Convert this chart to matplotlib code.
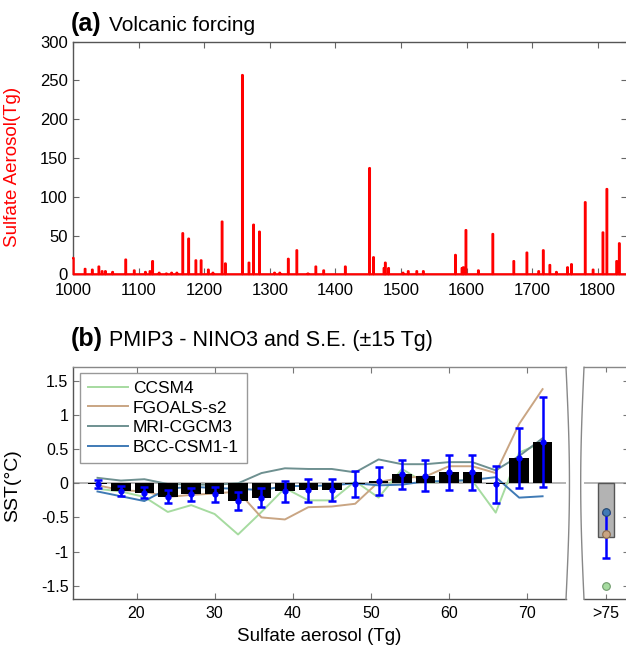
import numpy as np
import matplotlib
matplotlib.use("Agg")
import matplotlib.pyplot as plt

plt.rcParams['font.family'] = ['Liberation Sans', 'DejaVu Sans']

# ---------------- data: panel (a) ----------------
spike_years = [1000, 1018, 1029, 1039, 1044, 1049, 1060, 1080, 1093, 1110, 1117, 1121,
               1131, 1142, 1150, 1158, 1167, 1176, 1187, 1195, 1206, 1213, 1227, 1232,
               1258, 1268, 1275, 1284, 1307, 1315, 1328, 1341, 1358, 1370, 1382,
               1415, 1452, 1458, 1474, 1476, 1481, 1503, 1511, 1524, 1534,
               1583, 1593, 1595, 1599, 1618, 1640, 1672, 1692, 1710, 1717, 1727,
               1737, 1754, 1760, 1781, 1793, 1808, 1814, 1829, 1833]
spike_values = [21, 7, 6, 10, 4, 4, 3, 19, 5, 3, 4, 17,
                2, 1, 2, 2, 53, 46, 18, 18, 6, 2, 68, 14,
                257, 15, 64, 55, 2, 2, 20, 31, 1, 10, 5,
                10, 137, 22, 8, 15, 8, 2, 4, 4, 4,
                25, 8, 9, 57, 5, 52, 17, 28, 4, 31, 12,
                3, 9, 13, 93, 6, 54, 110, 17, 40]

# ---------------- data: panel (b) ----------------
bins = [15, 18, 21, 24, 27, 30, 33, 36, 39, 42, 45, 48, 51, 54, 57, 60, 63, 66, 69, 72]
mean_sst = [-0.015, -0.11, -0.14, -0.195, -0.16, -0.16, -0.255, -0.21, -0.12, -0.105, -0.10, -0.01,
            0.035, 0.13, 0.11, 0.16, 0.16, -0.012, 0.365, 0.605]
se_sst = [0.06, 0.075, 0.08, 0.095, 0.095, 0.11, 0.13, 0.14, 0.16, 0.165, 0.165, 0.19,
          0.21, 0.21, 0.23, 0.26, 0.26, 0.27, 0.44, 0.665]
ccsm4 = [-0.08, -0.12, -0.20, -0.42, -0.32, -0.45, -0.75, -0.42, -0.07, -0.25, -0.25, 0.03,
         -0.21, 0.21, 0.0, 0.05, 0.04, -0.43, 0.45, 0.60]
fgoals = [-0.03, -0.10, -0.12, -0.20, -0.17, -0.15, -0.12, -0.50, -0.53, -0.35, -0.34, -0.30,
          0.02, 0.08, 0.10, 0.25, 0.25, 0.15, 0.87, 1.38]
mri = [0.08, 0.04, 0.06, -0.01, -0.02, -0.02, 0.0, 0.15, 0.22, 0.21, 0.21, 0.16,
       0.35, 0.28, 0.28, 0.31, 0.31, 0.19, 0.40, 0.66]
bcc = [-0.12, -0.19, -0.26, -0.08, -0.05, -0.07, -0.08, -0.10, -0.04, -0.04, -0.03, 0.0,
       -0.03, -0.02, 0.03, 0.03, 0.05, 0.09, -0.21, -0.19]

big_label = ['>75']
big_mean = [-0.78]
big_err_center = [-0.76]
big_se = [0.33]
big_models = {'BCC-CSM1-1': -0.42, 'FGOALS-s2': -0.75, 'CCSM4': -1.50}

model_names = ['CCSM4', 'FGOALS-s2', 'MRI-CGCM3', 'BCC-CSM1-1']
model_colors = {'CCSM4': '#a6dba0', 'FGOALS-s2': '#c9a583',
                'MRI-CGCM3': '#6e9090', 'BCC-CSM1-1': '#3f7ab5'}
model_data = {'CCSM4': ccsm4, 'FGOALS-s2': fgoals, 'MRI-CGCM3': mri, 'BCC-CSM1-1': bcc}

W, H = 626, 655
fig = plt.figure(figsize=(W / 100, H / 100), dpi=100)

def box(l, t, r, b):
    return [l / W, 1 - b / H, (r - l) / W, (b - t) / H]

spine_col = '#555555'

# ---------------- panel (a) ----------------
ax1 = fig.add_axes(box(73.3, 41.7, 627, 274.3))
years = np.arange(1000, 1845)
series = np.zeros(len(years))
for yv, vv in zip(spike_years, spike_values):
    series[yv - 1000] = vv
ax1.plot(years, series, color='#ff0000', lw=1.6, drawstyle='steps-mid', clip_on=False, zorder=3)
ax1.set_xlim(1000, 1844.7)
ax1.set_ylim(0, 300)
ax1.set_xticks(np.arange(1000, 1801, 100))
ax1.set_yticks(np.arange(0, 301, 50))
ax1.tick_params(direction='in', length=4, width=0.8, labelsize=12, top=True, right=True,
                color='#666666', pad=6)
ax1.tick_params(axis='y', pad=4)
for s in ax1.spines.values():
    s.set_color(spine_col)
    s.set_linewidth(1.0)
ax1.set_ylabel('Sulfate Aerosol(Tg)', color='#ff0000', fontsize=13.5, labelpad=6)
ax1.yaxis.set_label_coords(-0.095, 0.46)
fig.text(71 / W, 1 - 30.7 / H, '(a)', fontsize=18, fontweight='bold', va='baseline')
fig.text(109 / W, 1 - 30.7 / H, 'Volcanic forcing', fontsize=15, va='baseline')

# ---------------- panel (b) main ----------------
ax2 = fig.add_axes(box(73.3, 367.3, 566, 599.3))
ax2.axhline(0, color='#b0b0b0', lw=1.3, zorder=1)
for name in model_names:
    ax2.plot(bins, model_data[name], color=model_colors[name], lw=1.4, label=name, zorder=2)
ax2.bar(bins, mean_sst, width=2.5, color='black', zorder=3)
ax2.errorbar(bins, mean_sst, yerr=se_sst, fmt='o', color='#0000ff', ms=3.5,
             elinewidth=1.8, capsize=3.2, capthick=1.8, zorder=4)
ax2.set_xlim(11.9, 75)
ax2.set_ylim(-1.7, 1.7)
ax2.set_xticks([20, 30, 40, 50, 60, 70])
ax2.set_yticks([-1.5, -1, -0.5, 0, 0.5, 1, 1.5])
ax2.set_yticklabels(['-1.5', '-1', '-0.5', '0', '0.5', '1', '1.5'])
ax2.tick_params(direction='in', length=4, width=0.8, labelsize=11.5, top=True, right=False,
                color='#777777', pad=5)
ax2.tick_params(axis='y', pad=3.5)
for s in ax2.spines.values():
    s.set_color(spine_col)
    s.set_linewidth(1.0)
ax2.spines['top'].set_color('#888888')
ax2.spines['right'].set_visible(False)
t = np.linspace(0, 1, 60)
ax2.plot(1 + 0.007 * np.sin(np.pi * t), t, transform=ax2.transAxes, color='#888888',
         lw=1.0, clip_on=False, zorder=5)
ax2.set_ylabel('SST(°C)', fontsize=14, labelpad=4)
ax2.yaxis.set_label_coords(-0.105, 0.49)
ax2.set_xlabel('Sulfate aerosol (Tg)', fontsize=13.5, labelpad=5)
leg = ax2.legend(loc='upper left', bbox_to_anchor=(0.0136, 0.9767), borderaxespad=0,
                 fontsize=12.5, handlelength=2.3, handletextpad=0.3, labelspacing=0.27,
                 borderpad=0.45, fancybox=False, framealpha=1, edgecolor='#999999')
leg.get_frame().set_linewidth(1.0)
fig.text(71 / W, 1 - 346 / H, '(b)', fontsize=18, fontweight='bold', va='baseline')
fig.text(109 / W, 1 - 346 / H, 'PMIP3 - NINO3 and S.E. (±15 Tg)', fontsize=15.5, va='baseline')

# ---------------- panel (b) >75 ----------------
ax3 = fig.add_axes(box(584, 367.3, 628, 599.3))
ax3.axhline(0, color='#b0b0b0', lw=1.3, zorder=1)
xpos = np.arange(len(big_label))
ax3.bar(xpos, big_mean, width=0.73, color='#b3b3b3', edgecolor='#555555', lw=1.0, zorder=2)
ax3.errorbar(xpos, big_err_center, yerr=big_se, fmt='none', ecolor='#0000ff',
             elinewidth=1.8, capsize=3.2, capthick=1.8, zorder=3)
edge = {'CCSM4': '#6f9a6c', 'FGOALS-s2': '#8a6a4a', 'BCC-CSM1-1': '#24466e'}
for name, v in big_models.items():
    ax3.plot(xpos, [v], 'o', color=model_colors[name], mec=edge[name], mew=0.8, ms=5.5, zorder=4)
ax3.set_xlim(-1, 1)
ax3.set_ylim(-1.7, 1.7)
ax3.set_xticks(xpos)
ax3.set_xticklabels(big_label)
ax3.set_yticks([-1.5, -1, -0.5, 0, 0.5, 1, 1.5])
ax3.tick_params(direction='in', length=3.5, width=0.8, labelsize=11.5, top=True,
                left=False, right=True, labelleft=False, color='#777777', pad=5)
for s in ax3.spines.values():
    s.set_color(spine_col)
    s.set_linewidth(1.0)
ax3.spines['top'].set_color('#888888')
ax3.spines['left'].set_visible(False)
ax3.plot(0 - 0.075 * np.sin(np.pi * t), t, transform=ax3.transAxes, color='#888888',
         lw=1.0, clip_on=False, zorder=5)

fig.savefig('out.png', dpi=100)
